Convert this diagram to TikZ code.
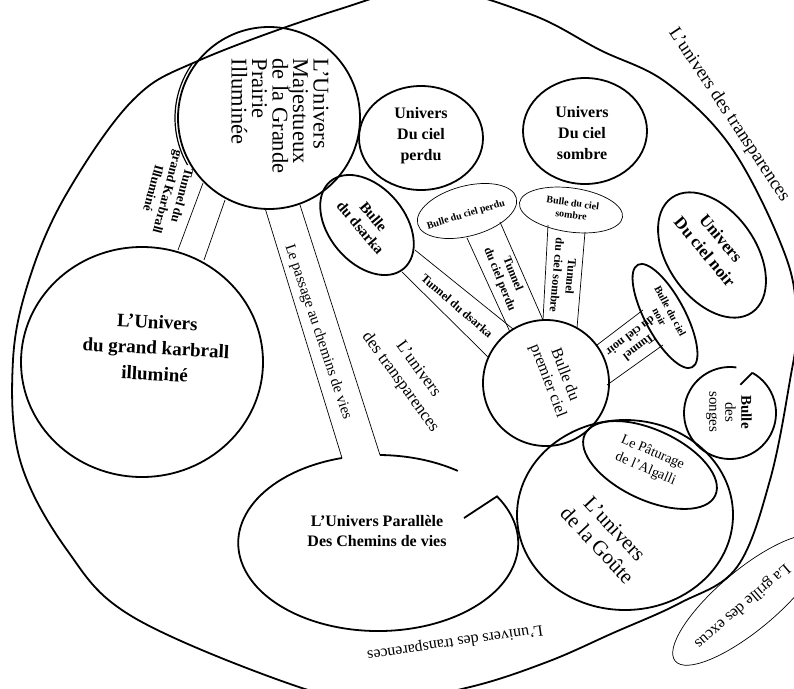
\documentclass[tikz,border=0pt]{standalone}
\usepackage{fontspec}
\setmainfont{Liberation Serif}
\newcommand\fsz[2]{\fontsize{#1}{#2}\selectfont}
\begin{document}
\begin{tikzpicture}[x=1pt,y=-1pt,
  big/.style={line width=1.8pt},
  mid/.style={line width=1.2pt},
  thin/.style={line width=0.7pt},
  txt/.style={inner sep=0pt, align=center}]
\useasboundingbox (0,0) rectangle (794,688);
\clip (0,0) rectangle (794,688);
% outer universe
\draw[big] plot[smooth cycle, tension=0.6] coordinates {(13,360) (30,277) (67,193) (133,100) (200,60) (337,10) (430,-12) (530,14) (600,50) (667,83) (733,150) (787,260) (796,330) (790,380) (770,480) (737,567) (680,603) (613,633) (547,662) (470,687) (380,702) (293,685) (133,617) (67,550) (20,460)};
% Majestueux
\draw[big] (269,118) circle[radius=91];
\draw[mid] (269,118) ++(150:94) arc[start angle=150, end angle=215, radius=94];
\node[txt, font=\fsz{22.5}{20.5}, align=left, rotate=-90] (majt) at (280,116) {L’Univers\\Majestueux\\de la Grande\\Prairie\\Illuminée};
% Karbrall
\draw[big] (142,362) ellipse[x radius=121, y radius=115];
\node[txt, font=\fsz{19}{26}\bfseries, rotate=-3] (karbt) at (156,348) {L’Univers\\du grand karbrall\\illuminé};
% tunnel karbrall
\coordinate (tk1a) at (203,183); \coordinate (tk1b) at (178,250);
\coordinate (tk2a) at (225,200); \coordinate (tk2b) at (204,260);
\draw[thin] (tk1a) -- (tk1b); \draw[thin] (tk2a) -- (tk2b);
\node[txt, font=\fsz{13}{15}\bfseries, rotate=-105] (tkt) at (168,192) {Tunnel du\\grand Karbrall\\Illuminé};
% passage
\coordinate (pa1a) at (265,208); \coordinate (pa1b) at (342,458);
\coordinate (pa2a) at (300,205); \coordinate (pa2b) at (380,455);
\draw[thin] (pa1a) -- (pa1b); \draw[thin] (pa2a) -- (pa2b);
\node[txt, font=\fsz{15}{18}, rotate=-71.4] (passt) at (318,332) {Le passage au chemins de vies};
% Parallele
\draw[big] (pa1b) arc[start angle=255, end angle=-32, x radius=140, y radius=88] -- (464,518);
\draw[big] (pa2b) arc[start angle=271, end angle=305, x radius=140, y radius=88];
\node[txt, font=\fsz{16}{20}\bfseries] (part) at (377,531) {L’Univers Parallèle\\Des Chemins de vies};
% transparences labels
\node[txt, font=\fsz{17}{22}, rotate=-54] (transm) at (409,376) {L’univers\\des transparences};
\node[txt, font=\fsz{18.5}{22}, rotate=-56.4] (transtop) at (729,115) {L’univers des transparences};
\node[txt, font=\fsz{16}{20}, rotate=188.5] (transbot) at (455,642) {L’univers des transparences};
% perdu / sombre
\draw[big] (421,138) ellipse[x radius=62, y radius=52];
\node[txt, font=\fsz{16}{21}\bfseries] (perdut) at (421,136) {Univers\\Du ciel\\perdu};
\draw[big] (585,131) ellipse[x radius=62, y radius=53];
\node[txt, font=\fsz{16}{21}\bfseries] (sombret) at (582,133) {Univers\\Du ciel\\sombre};
% dsarka
\draw[big, rotate around={-50:(367,225)}] (367,225) ellipse[x radius=57, y radius=38];
\node[txt, font=\fsz{15}{17}\bfseries, rotate=-50] (dsat) at (367,222) {Bulle\\du dsarka};
% bulles perdu & sombre
\draw[thin, rotate around={15:(467,211)}] (467,211) ellipse[x radius=51, y radius=25];
\node[txt, font=\fsz{10}{12}\bfseries, rotate=17] (bpt) at (466,215) {Bulle du ciel perdu};
\draw[thin, rotate around={-8:(571,210)}] (571,210) ellipse[x radius=52, y radius=22];
\node[txt, font=\fsz{10}{12}\bfseries, rotate=-8] (bst) at (572,209) {Bulle du ciel\\sombre};
% premier ciel
\draw[big] (546,383) circle[radius=63];
\node[txt, font=\fsz{16}{18}, rotate=-69] (premt) at (556,378) {Bulle du\\premier ciel};
% tunnels
\coordinate (td1a) at (415,250); \coordinate (td1b) at (513,329);
\coordinate (td2a) at (402,272); \coordinate (td2b) at (488,357);
\draw[thin] (td1a) -- (td1b); \draw[thin] (td2a) -- (td2b);
\node[txt, font=\fsz{12}{14}\bfseries, rotate=-41] (tdt) at (457,306) {Tunnel du dsarka};
\coordinate (tp1a) at (467,238); \coordinate (tp1b) at (510,332);
\coordinate (tp2a) at (500,222); \coordinate (tp2b) at (543,320);
\draw[thin] (tp1a) -- (tp1b); \draw[thin] (tp2a) -- (tp2b);
\node[txt, font=\fsz{12}{14}\bfseries, rotate=-68] (tpt) at (506,277) {Tunnel\\du ciel perdu};
\coordinate (ts1a) at (548,225); \coordinate (ts1b) at (543,320);
\coordinate (ts2a) at (585,232); \coordinate (ts2b) at (577,328);
\draw[thin] (ts1a) -- (ts1b); \draw[thin] (ts2a) -- (ts2b);
\node[txt, font=\fsz{12}{14}\bfseries, rotate=-95] (tst) at (564,276) {Tunnel\\du ciel sombre};
\coordinate (tn1a) at (597,345); \coordinate (tn1b) at (643,310);
\coordinate (tn2a) at (607,385); \coordinate (tn2b) at (663,345);
\draw[thin] (tn1a) -- (tn1b); \draw[thin] (tn2a) -- (tn2b);
\node[txt, font=\fsz{12}{14}\bfseries, rotate=217] (tnt) at (635,342) {Tunnel\\du ciel noir};
% noir
\draw[big, rotate around={-62:(665,316)}] (665,316) ellipse[x radius=58, y radius=20];
\node[txt, font=\fsz{10.5}{12}\bfseries, rotate=-62] (bnt) at (665,314) {Bulle du ciel\\noir};
\draw[big, rotate around={-55:(712,255)}] (712,255) ellipse[x radius=70, y radius=44];
\node[txt, font=\fsz{17}{21}\bfseries, rotate=-50] (noirt) at (713,245) {Univers\\Du ciel noir};
% songes
\coordinate (songc) at (730,413);
\draw[big] (songc) ++(-61:46) coordinate (songa) arc[start angle=-61, end angle=278, radius=46];
\draw[big] (songa) -- ++(-12,12);
\node[txt, font=\fsz{15}{16}, rotate=-90] (songt) at (729,412) {\textbf{Bulle}\\des\\songes};
% goute
\draw[big] (625,515) ellipse[x radius=108, y radius=95];
\node[txt, font=\fsz{21}{24}, rotate=-47] (goutt) at (606,537) {L’univers\\de la Goûte};
\draw[big, rotate around={-25:(650,465)}] (650,465) ellipse[x radius=72, y radius=35];
\node[txt, font=\fsz{14}{18}, rotate=-23] (patt) at (649,461) {Le Pâturage\\de l’Algalli};
% grille
\draw[thin, rotate around={40:(748,600)}] (748,600) ellipse[x radius=95, y radius=30];
\node[txt, font=\fsz{16}{20}, rotate=220.6] (grit) at (742,606) {La grille des excus};
\end{tikzpicture}
\end{document}
